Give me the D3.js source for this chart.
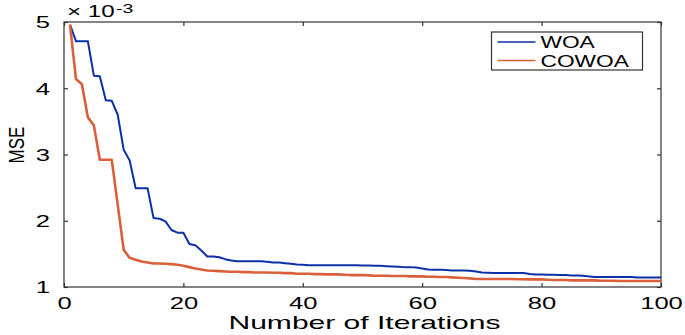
<!DOCTYPE html>
<html>
<head>
<meta charset="utf-8">
<script src="https://cdn.jsdelivr.net/npm/d3@7"></script>
<style>
  body { margin: 0; background: #fff; }
  text { font-family: "Liberation Sans", Arial, sans-serif; fill: #000; }
  .axis path, .axis line { stroke: #333; stroke-width: 1.2; }
</style>
</head>
<body>
<script>
//==============================================================================
// DATA
//==============================================================================

const seriesNames = ['WOA', 'COWOA'];
const xTicks = [0, 20, 40, 60, 80, 100];
const yTicks = [1, 2, 3, 4, 5];

// MSE (x 1e-3) for iterations 1..100
const woa = [
  4.96, 4.71, 4.71, 4.71, 4.19, 4.18, 3.82, 3.81, 3.60, 3.07,
  2.91, 2.49, 2.49, 2.49, 2.04, 2.03, 1.99, 1.86, 1.82, 1.82,
  1.65, 1.63, 1.55, 1.46, 1.46, 1.45, 1.42, 1.40, 1.39, 1.39,
  1.39, 1.39, 1.39, 1.38, 1.37, 1.37, 1.36, 1.35, 1.34, 1.335,
  1.33, 1.33, 1.33, 1.33, 1.33, 1.33, 1.33, 1.33, 1.33, 1.325,
  1.325, 1.32, 1.32, 1.315, 1.31, 1.305, 1.30, 1.30, 1.295, 1.28,
  1.265, 1.26, 1.26, 1.255, 1.25, 1.25, 1.25, 1.245, 1.235, 1.22,
  1.215, 1.21, 1.21, 1.21, 1.21, 1.21, 1.21, 1.195, 1.19, 1.19,
  1.185, 1.185, 1.18, 1.18, 1.175, 1.175, 1.17, 1.16, 1.15, 1.15,
  1.15, 1.15, 1.15, 1.15, 1.15, 1.145, 1.145, 1.145, 1.145, 1.145
];

const cowoa = [
  4.96, 4.14, 4.06, 3.56, 3.44, 2.92, 2.92, 2.92, 2.24, 1.56,
  1.44, 1.41, 1.385, 1.37, 1.355, 1.355, 1.35, 1.345, 1.335, 1.32,
  1.30, 1.28, 1.265, 1.25, 1.245, 1.24, 1.235, 1.23, 1.23, 1.225,
  1.225, 1.22, 1.22, 1.22, 1.215, 1.215, 1.21, 1.21, 1.20, 1.20,
  1.20, 1.195, 1.195, 1.19, 1.19, 1.19, 1.185, 1.18, 1.18, 1.18,
  1.175, 1.17, 1.17, 1.17, 1.165, 1.165, 1.165, 1.16, 1.16, 1.16,
  1.155, 1.155, 1.15, 1.15, 1.145, 1.14, 1.135, 1.13, 1.12, 1.12,
  1.12, 1.12, 1.12, 1.12, 1.12, 1.118, 1.118, 1.115, 1.115, 1.115,
  1.11, 1.105, 1.105, 1.105, 1.10, 1.10, 1.10, 1.10, 1.10, 1.095,
  1.095, 1.095, 1.09, 1.09, 1.09, 1.09, 1.09, 1.09, 1.09, 1.09
];

const colors = ['#0e30a6', '#d9603b'];

//==============================================================================
// PARAMETERS
//==============================================================================

const margin = { top: 22, right: 24, bottom: 48, left: 64 };
const width = 685 - margin.left - margin.right;
const height = 335 - margin.top - margin.bottom;
const sx = 1.42; // the original figure is stretched sideways

const x = d3.scaleLinear().domain([0, 100]).range([0, width]);
const y = d3.scaleLinear().domain([1, 5]).range([height, 0]);

const svg = d3.select('body').append('svg')
  .attr('width', 685)
  .attr('height', 335)
  .append('g')
  .attr('transform', `translate(${margin.left}, ${margin.top})`);

// widen text horizontally, like the stretched original
function stretch(sel, k = sx) {
  sel.each(function () {
    const w = this.getComputedTextLength();
    d3.select(this)
      .attr('textLength', w * k)
      .attr('lengthAdjust', 'spacingAndGlyphs');
  });
}

//==============================================================================
// DRAW
//==============================================================================

// frame
svg.append('rect')
  .attr('width', width).attr('height', height)
  .attr('fill', 'none').attr('stroke', '#333').attr('stroke-width', 1.2);

// bottom / left axes with labels
const xAxis = svg.append('g')
  .attr('class', 'axis')
  .attr('transform', `translate(0,${height})`)
  .call(d3.axisBottom(x).tickValues(xTicks).tickSizeInner(-4).tickSizeOuter(0).tickFormat(d3.format('d')));
xAxis.selectAll('text')
  .attr('y', 21.5).attr('dy', 0)
  .attr('font-size', 16)
  .call(stretch, 1.6);

const yAxis = svg.append('g')
  .attr('class', 'axis')
  .call(d3.axisLeft(y).tickValues(yTicks).tickSizeInner(-4).tickSizeOuter(0).tickFormat(d3.format('d')));
yAxis.selectAll('text')
  .attr('x', -14).attr('dy', '0.36em')
  .attr('font-size', 16)
  .call(stretch, 1.6);

// top / right ticks only
svg.append('g')
  .attr('class', 'axis')
  .call(d3.axisTop(x).tickValues(xTicks).tickSizeInner(-4).tickSizeOuter(0).tickFormat(''));
svg.append('g')
  .attr('class', 'axis')
  .attr('transform', `translate(${width},0)`)
  .call(d3.axisRight(y).tickValues(yTicks).tickSizeInner(-4).tickSizeOuter(0).tickFormat(''));
svg.selectAll('.axis .domain').remove();

// exponent label
svg.append('text')
  .attr('x', 3).attr('y', -5)
  .attr('font-size', 17)
  .text('\u00d7 10')
  .call(stretch);
svg.append('text')
  .attr('x', 52).attr('y', -9)
  .attr('font-size', 13)
  .text('-3')
  .call(stretch, 1.5);

// axis titles
svg.append('text')
  .attr('x', width / 2 + 2).attr('y', height + 42)
  .attr('text-anchor', 'middle')
  .attr('font-size', 19)
  .text('Number of Iterations')
  .call(stretch, 1.58);

svg.append('text')
  .attr('transform', `translate(-40,${145 - margin.top}) scale(1.25,1) rotate(-90)`)
  .attr('text-anchor', 'middle')
  .attr('font-size', 17)
  .text('MSE');

// lines
const line = d3.line()
  .x((d, i) => x(i + 1))
  .y(d => y(d));

[woa, cowoa].forEach((vals, k) => {
  svg.append('path')
    .datum(vals)
    .attr('fill', 'none')
    .attr('stroke', colors[k])
    .attr('stroke-width', k === 0 ? 2 : 2.6)
    .attr('stroke-linejoin', 'round')
    .attr('d', line);
});

// legend
const legend = svg.append('g')
  .attr('transform', `translate(${491.5 - margin.left},${32 - margin.top})`);
legend.append('rect')
  .attr('width', 151).attr('height', 38)
  .attr('fill', '#fff').attr('stroke', '#333').attr('stroke-width', 1.2);

seriesNames.forEach((name, k) => {
  const row = legend.append('g').attr('transform', `translate(0,${10 + k * 18.5})`);
  row.append('line')
    .attr('x1', 6).attr('x2', 44)
    .attr('stroke', colors[k]).attr('stroke-width', 1.5);
  row.append('text')
    .attr('x', 49).attr('y', 6)
    .attr('font-size', 16)
    .text(name)
    .call(stretch);
});
</script>
</body>
</html>
